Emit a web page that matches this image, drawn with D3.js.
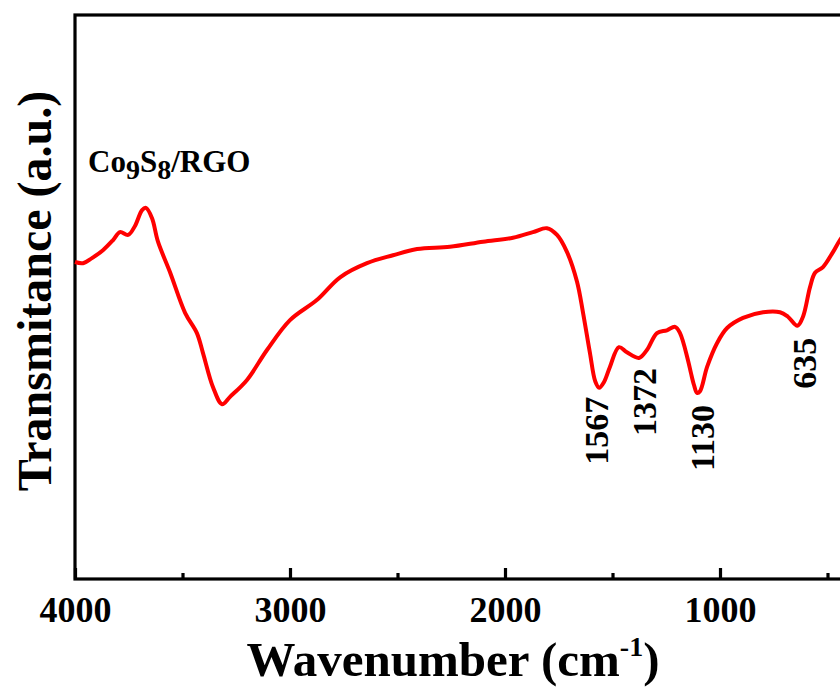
<!DOCTYPE html>
<html>
<head>
<meta charset="utf-8">
<script src="https://cdn.jsdelivr.net/npm/d3@7"></script>
<style>
  body { margin: 0; background: #fff; }
  svg { display: block; }
  text { font-family: "Liberation Serif", "Times New Roman", serif; font-weight: bold; fill: #000; }
</style>
</head>
<body>
<svg id="chart" width="840" height="687"></svg>
<script>
// FTIR spectrum of Co9S8/RGO
const wavenumber = [4000, 3963, 3921, 3870, 3823, 3791, 3753, 3721, 3688, 3670, 3642, 3614, 3558, 3488,
	3433, 3405, 3358, 3316, 3279, 3200, 3107, 3000, 2874, 2767, 2642, 2521, 2409, 2256, 2102, 1963,
	1870, 1805, 1758, 1712, 1665, 1637, 1605, 1580, 1562, 1540, 1512, 1470, 1433, 1377, 1340, 1293, 1247,
	1209, 1186, 1149, 1135, 1121, 1107, 1093, 1060, 1014, 967, 893, 800, 721, 684, 640, 614, 581, 558, 521, 474, 442, 400];
const transmittance = [56.2, 56.0, 56.9, 58.3, 60.1, 61.5, 61.0, 62.6, 65.4, 65.8, 64.0, 59.8, 54.4, 47.2,
	43.6, 40.1, 34.0, 31.0, 32.3, 35.3, 40.6, 45.9, 49.5, 53.5, 56.0, 57.4, 58.5, 58.9, 59.8, 60.5,
	61.5, 62.2, 61.0, 58.0, 52.7, 47.2, 40.1, 35.0, 33.9, 34.9, 37.6, 41.1, 40.2, 39.2, 40.6, 43.6, 44.1,
	44.7, 43.6, 38.8, 36.5, 34.4, 33.0, 33.3, 37.6, 41.8, 44.5, 46.3, 47.3, 47.3, 46.5, 44.9, 46.5, 51.8, 54.3, 55.3, 58.0, 60.1, 62.2];
const majorTicks = [4000, 3000, 2000, 1000];
const minorTicks = [3500, 2500, 1500, 500];
const peakLabels = [1567, 1372, 1130, 635];

const svg = d3.select("#chart");
const margin = {left: 75, top: 15, right: 849, bottom: 579};

const x = d3.scaleLinear().domain([4000, 400]).range([margin.left, margin.right]);
const y = d3.scaleLinear().domain([0, 100]).range([margin.bottom, margin.top]);

const points = wavenumber.map((w, i) => ({w: w, t: transmittance[i]}));

// frame
svg.append("rect")
	.attr("x", margin.left).attr("y", margin.top)
	.attr("width", margin.right - margin.left)
	.attr("height", margin.bottom - margin.top)
	.attr("fill", "none").attr("stroke", "#000").attr("stroke-width", 3.2);

// inward ticks on the bottom axis
const gx = svg.append("g").attr("transform", "translate(0," + margin.bottom + ")");
gx.call(d3.axisBottom(x).tickValues(majorTicks).tickSize(-11).tickFormat(d3.format("d")));
gx.append("g").call(d3.axisBottom(x).tickValues(minorTicks).tickSize(-6).tickFormat(""));
gx.selectAll(".domain").remove();
gx.selectAll("line").attr("stroke", "#000").attr("stroke-width", 3.2);
gx.selectAll("text")
	.attr("y", 43).attr("dy", 0)
	.style("font-size", "36px")
	.style("font-family", "'Liberation Serif', 'Times New Roman', serif")
	.style("font-weight", "bold")
	.attr("fill", "#000");

// spectrum
const line = d3.line()
	.x(d => x(d.w))
	.y(d => y(d.t))
	.curve(d3.curveCatmullRom.alpha(0.5));

svg.append("path")
	.datum(points)
	.attr("d", line)
	.attr("fill", "none")
	.attr("stroke", "#ff0000")
	.attr("stroke-width", 4)
	.attr("stroke-linejoin", "round");

// peak labels, rotated, just under the local minimum near each peak
const labelShift = {1567: [10, 9], 1372: [16, 10], 1130: [22, 12], 635: [18, 12]};
peakLabels.forEach(p => {
	const near = points.filter(d => Math.abs(d.w - p) < 45);
	const low = d3.min(near, d => d.t);
	const px = x(p) + labelShift[p][0];
	const py = y(low) + labelShift[p][1];
	svg.append("text")
		.attr("transform", "translate(" + px + "," + py + ") rotate(-90)")
		.attr("text-anchor", "end")
		.style("font-size", "34px")
		.text(p);
});

// sample name
const name = svg.append("text").attr("x", 88).attr("y", 172).style("font-size", "31px");
name.append("tspan").text("Co");
name.append("tspan").attr("dy", 7).style("font-size", "28px").text("9");
name.append("tspan").attr("dy", -7).text("S");
name.append("tspan").attr("dy", 7).style("font-size", "28px").text("8");
name.append("tspan").attr("dy", -7).text("/RGO");

// axis titles
const xt = svg.append("text")
	.attr("x", 453).attr("y", 676)
	.attr("text-anchor", "middle")
	.style("font-size", "49px");
xt.append("tspan").text("Wavenumber (cm");
xt.append("tspan").attr("dy", -20).style("font-size", "28px").text("-1");
xt.append("tspan").attr("dy", 20).text(")");

svg.append("text")
	.attr("transform", "translate(51,291) rotate(-90)")
	.attr("text-anchor", "middle")
	.style("font-size", "48px")
	.text("Transmitance (a.u.)");
</script>
</body>
</html>
